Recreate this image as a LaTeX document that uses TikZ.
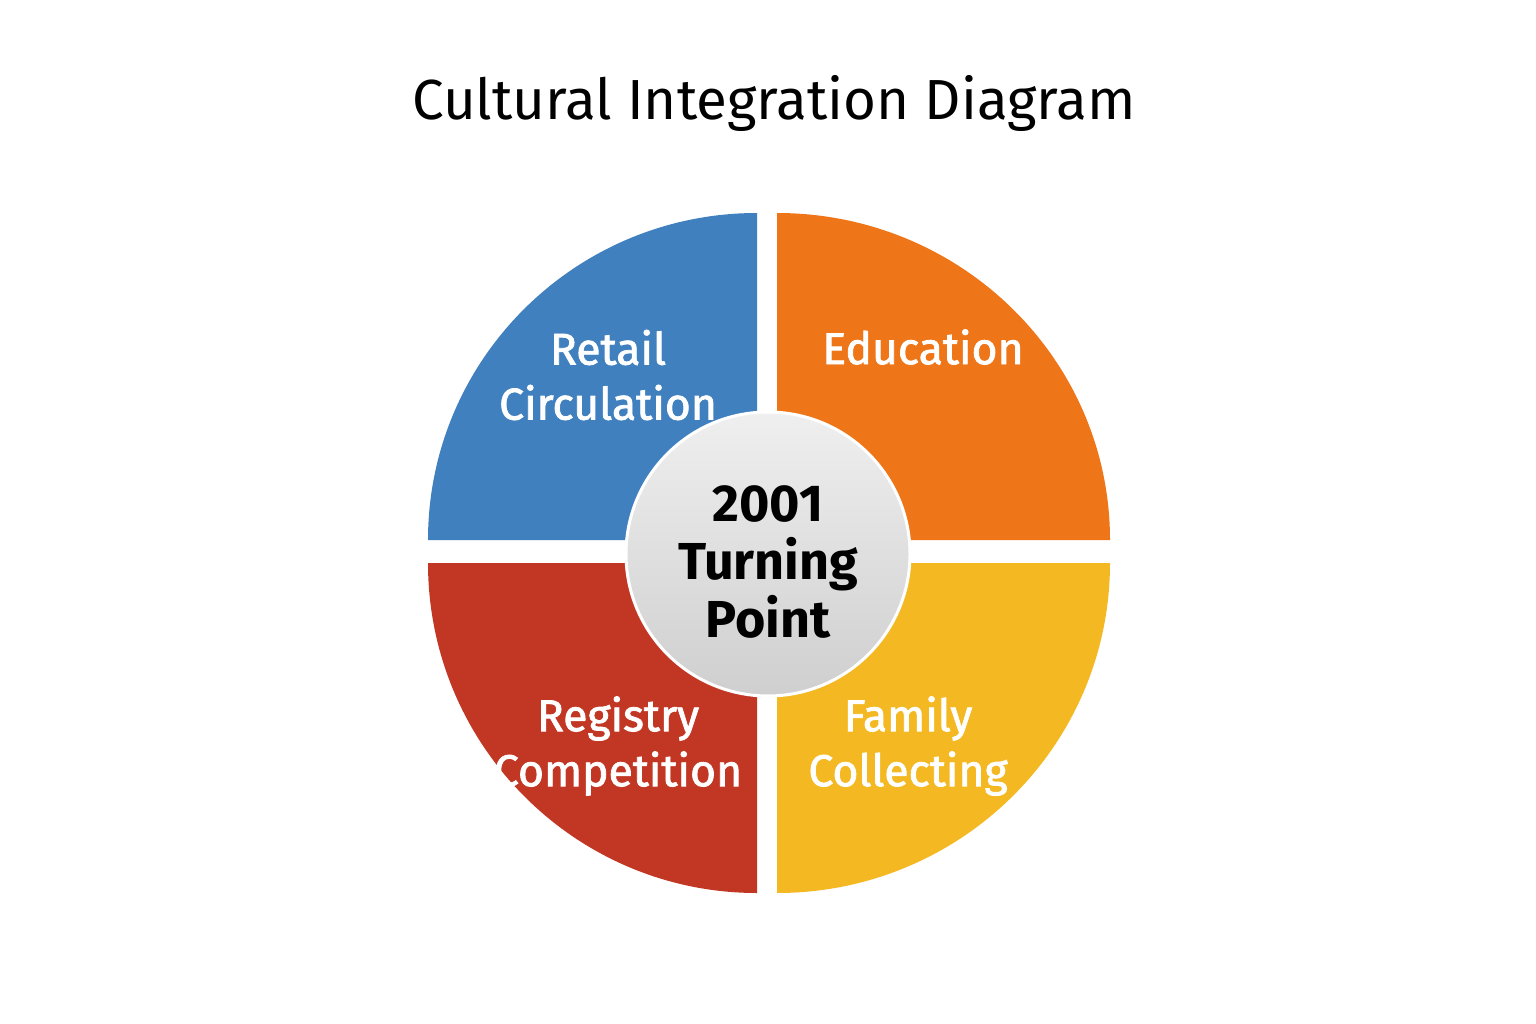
\documentclass[tikz,border=0pt]{standalone}
\usepackage{fontspec}
\setmainfont{Fira Sans}
\newfontfamily\labfont{Fira Sans}[FakeBold=1.8]
\usetikzlibrary{shadings}
\definecolor{qblue}{HTML}{4080BE}
\definecolor{qorange}{HTML}{EE7518}
\definecolor{qred}{HTML}{C23624}
\definecolor{qyellow}{HTML}{F4B922}
\definecolor{ctop}{HTML}{EFEFEF}
\definecolor{cbot}{HTML}{CFCFCF}
\begin{document}
\begin{tikzpicture}[x=1pt,y=-1pt,
  quadlabel/.style={text=white,font=\labfont\fontsize{44.5}{55}\selectfont,align=center,inner sep=0pt},
  centerlabel/.style={text=black,font=\bfseries\fontsize{52}{58}\selectfont,align=center,inner sep=0pt}]
\useasboundingbox[fill=white] (0,0) rectangle (1536,1024);
\node[font=\fontsize{56.5}{64}\selectfont,inner sep=0pt] (title) at (774,103) {Cultural Integration Diagram};
% quadrants
\coordinate (ctl) at (757,540);
\coordinate (ctr) at (777,540);
\coordinate (cbr) at (777,563);
\coordinate (cbl) at (757,563);
\fill[qblue] (ctl) -- ++(-329,0) arc[start angle=180,end angle=270,x radius=329,y radius=327] -- cycle;
\fill[qorange] (ctr) -- ++(0,-327) arc[start angle=270,end angle=360,x radius=333,y radius=327] -- cycle;
\fill[qyellow] (cbr) -- ++(333,0) arc[start angle=0,end angle=90,x radius=333,y radius=330] -- cycle;
\fill[qred] (cbl) -- ++(0,330) arc[start angle=90,end angle=180,x radius=329,y radius=330] -- cycle;
% labels
\node[quadlabel] (retail) at (608,375) {Retail\\Circulation};
\node[quadlabel] (edu) at (923,347) {Education};
\node[quadlabel] (reg) at (618,746) {Registry\\Competition};
\node[quadlabel] (fam) at (908,746) {Family\\Collecting};
% center
\node[circle,minimum size=284pt,inner sep=0pt,draw=white,line width=3pt,top color=ctop,bottom color=cbot] (hub) at (768,554) {};
\node[centerlabel] (hubtext) at (768,562) {2001\\Turning\\Point};
\end{tikzpicture}
\end{document}
